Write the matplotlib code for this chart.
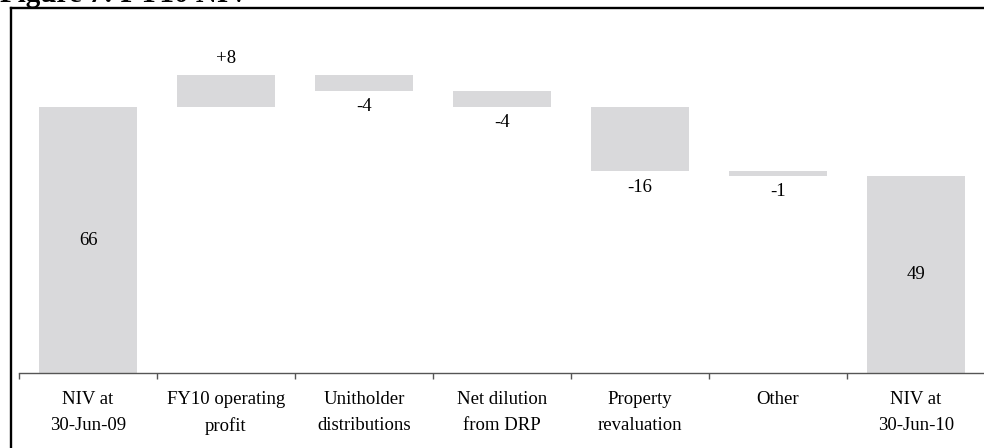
import matplotlib
matplotlib.use('AGG')

import numpy as np
import matplotlib.pyplot as plt
from matplotlib.lines import Line2D

categories = ["NIV at\n30-Jun-09", "FY10 operating\nprofit", "Unitholder\ndistributions",
              "Net dilution\nfrom DRP", "Property\nrevaluation", "Other", "NIV at\n30-Jun-10"]
values = [66, 8, -4, -4, -16, -1, 49]
labels = ["66", "+8", "-4", "-4", "-16", "-1", "49"]
is_total = [True, False, False, False, False, False, True]

plt.rcParams['font.family'] = ['Liberation Serif', 'DejaVu Serif']

W, H = 984, 448
fig = plt.figure(figsize=(W / 100, H / 100), dpi=100)

# axes placed in pixel terms: x axis line at y=373, top at y=8
ax = fig.add_axes([19 / W, (H - 373) / H, 966 / W, 365 / H])

bottoms, heights = [], []
running = 0
for v, tot in zip(values, is_total):
  if tot:
    bottoms.append(0)
    heights.append(v)
    running = v
  elif v >= 0:
    bottoms.append(running)
    heights.append(v)
    running += v
  else:
    bottoms.append(running + v)
    heights.append(-v)
    running += v

x = np.arange(len(categories))
ax.bar(x, heights, bottom=bottoms, width=0.71, color='#d9d9db', edgecolor='none')

fs = 13.5
for i, (b, h, lab, tot, v) in enumerate(zip(bottoms, heights, labels, is_total, values)):
  if tot:
    ax.text(i, b + h / 2, lab, ha='center', va='center', fontsize=fs)
  elif v >= 0:
    ax.annotate(lab, (i, b + h), xytext=(0, 11.5), textcoords='offset points',
                ha='center', va='center', fontsize=fs)
  else:
    ax.annotate(lab, (i, b), xytext=(0, -11.5), textcoords='offset points',
                ha='center', va='center', fontsize=fs)

ax.set_xlim(-0.5, len(categories) - 0.5)
ax.set_ylim(0, 365 / 4.03)
ax.set_yticks([])
ax.set_xticks(x)
ax.set_xticklabels(categories, fontsize=13.5, linespacing=1.68)
ax.set_xticks(np.arange(len(categories) + 1) - 0.5, minor=True)
ax.tick_params(axis='x', which='major', length=0, pad=13)
ax.tick_params(axis='x', which='minor', length=4, color='#555555', width=1)
for s in ['top', 'right', 'left']:
  ax.spines[s].set_visible(False)
ax.spines['bottom'].set_color('#555555')
ax.spines['bottom'].set_linewidth(1)

# outer frame (left and top only, rest cropped)
fig.add_artist(Line2D([11 / W, 11 / W], [0, (H - 8) / H], color='black', lw=1.7))
fig.add_artist(Line2D([11 / W, 1], [(H - 8) / H, (H - 8) / H], color='black', lw=1.7))

# title, mostly cropped off the top
fig.text(0.0, 1 - 1.5 / H, "Figure 7: FY10 NIV", fontsize=21, fontweight='bold',
         ha='left', va='baseline')

fig.savefig('out.png', dpi=100)
